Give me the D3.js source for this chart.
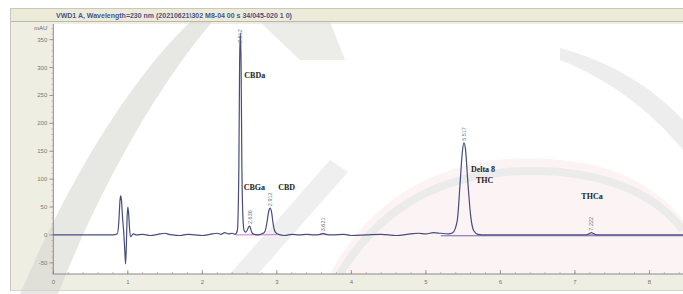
<!DOCTYPE html>
<html>
<head>
<meta charset="utf-8">
<script src="https://cdn.jsdelivr.net/npm/d3@7"></script>
<style>
  body { margin: 0; background: #fff; }
  svg { display: block; font-family: "Liberation Sans", Arial, sans-serif; }
</style>
</head>
<body>
<svg id="chart"></svg>
<script>
// chromatogram trace (time in min, signal in mAU)
var traceTime = [0, 0.5, 0.8, 0.86, 0.88, 0.895, 0.905, 0.915, 0.93, 0.945, 0.96, 0.97, 0.98, 0.99, 1.0, 1.01, 1.025, 1.04, 1.07, 1.12,
  1.2, 1.3, 1.4, 1.5, 1.55, 1.6, 1.7, 1.8, 1.9, 2.0, 2.1, 2.2, 2.25, 2.3, 2.35, 2.4, 2.44, 2.47, 2.49, 2.5, 2.51, 2.52, 2.53, 2.545,
  2.56, 2.58, 2.6, 2.62, 2.635, 2.65, 2.67, 2.7, 2.75, 2.8, 2.84, 2.87, 2.89, 2.91, 2.93, 2.95, 2.98, 3.02, 3.1, 3.2, 3.3, 3.4, 3.5,
  3.58, 3.62, 3.66, 3.75, 3.9, 4.0, 4.2, 4.4, 4.6, 4.8, 4.9, 5.0, 5.1, 5.2, 5.3, 5.36, 5.42, 5.46, 5.49, 5.51, 5.53, 5.56, 5.6, 5.64,
  5.7, 5.8, 6.0, 6.5, 7.0, 7.15, 7.2, 7.22, 7.24, 7.3, 7.5, 8.0, 8.45];
var traceValue = [0, 0, 0, 2, 25, 62, 70, 62, 30, 5, -30, -52, -20, 30, 50, 40, 8, -3, 2, 0,
  1, -1, 1, 3, 1, 0, -1, 1, 0, -1, 1, 3, 1, 4, 2, 3, 1, 8, 120, 305, 362, 305, 130, 30,
  8, 5, 8, 14, 16, 10, 3, 1, 0, 2, 6, 25, 42, 48, 40, 20, 5, 1, -1, 1, 0, 1, 0,
  1, 3, 1, 0, 1, -1, 0, 1, -1, 2, 3, 2, 4, 3, 2, 4, 25, 95, 150, 165, 155, 100, 35, 8,
  1, 0, 0, 0, 0, 0, 3, 4, 3, 0, 0, 0, 0];

// integrated peaks
var peakNames = ["CBDa", "CBGa", "CBD", "", "Delta 8|THC", "THCa"];
var peakTimes = [2.51, 2.635, 2.91, 3.62, 5.51, 7.22];
var peakHeights = [362, 16, 48, 3, 165, 4];
var peakLabels = ["2.512", "2.636", "2.912", "3.621", "5.517", "7.222"];

// axis ticks
var yTicks = [-50, 0, 50, 100, 150, 200, 250, 300, 350];
var xTicks = [0, 1, 2, 3, 4, 5, 6, 7, 8];

var titleText = "VWD1 A, Wavelength=230 nm (20210621\\302 M8-04 00 s 34/045-020 1 0)";

var svgWidth = 683, svgHeight = 294;
var svg = d3.select("#chart").attr("width", svgWidth).attr("height", svgHeight);

var plotLeft = 53.3, plotRight = 683, plotTop = 24, plotBottom = 274;

var x = d3.scaleLinear().domain([0, 8.45]).range([plotLeft, plotRight]);
var y = d3.scaleLinear().domain([-70, 378]).range([plotBottom, plotTop]);

// frame: header bar, left panel, bottom band
svg.append("rect").attr("x", 10).attr("y", 8).attr("width", 673).attr("height", 283).attr("fill", "#efeee3");
svg.append("rect").attr("x", 10).attr("y", 8).attr("width", 673).attr("height", 14).attr("fill", "#ecebd9");
svg.append("line").attr("x1", 10).attr("x2", 683).attr("y1", 8.5).attr("y2", 8.5).attr("stroke", "#c9c8bb");
svg.append("line").attr("x1", 10).attr("x2", 683).attr("y1", 21.5).attr("y2", 21.5).attr("stroke", "#b9b8ab");
svg.append("line").attr("x1", 10.5).attr("x2", 10.5).attr("y1", 8).attr("y2", 291).attr("stroke", "#c9c8bb");
svg.append("line").attr("x1", 10).attr("x2", 683).attr("y1", 290.5).attr("y2", 290.5).attr("stroke", "#d6d5c8");
svg.append("rect").attr("x", plotLeft).attr("y", plotTop).attr("width", plotRight - plotLeft)
  .attr("height", plotBottom - plotTop).attr("fill", "#fff");

// faint watermark shapes
var wm = svg.append("g").attr("opacity", 0.6);
wm.append("path").attr("d", "M20,294 C60,200 120,90 190,22 L212,22 C150,95 95,200 58,294 Z").attr("fill", "#d8d8d2");
wm.append("path").attr("d", "M260,22 L330,22 L345,60 L300,60 Z").attr("fill", "#e0e0dc");
wm.append("path").attr("d", "M560,60 C610,80 650,110 683,150 L683,120 C650,85 610,62 560,48 Z").attr("fill", "#e2e2e2");
wm.append("path").attr("d", "M330,274 C380,180 470,150 560,160 C620,165 660,190 683,220 L683,274 Z").attr("fill", "#fbeeee");
wm.append("path").attr("d", "M340,274 C390,190 470,165 560,172 C620,178 660,200 683,230").attr("fill", "none")
  .attr("stroke", "#dedede").attr("stroke-width", 8);
wm.append("path").attr("d", "M230,274 L330,160 L348,172 L258,274 Z").attr("fill", "#e6e6e6");

// title
svg.append("text").attr("x", 56).attr("y", 17.5).attr("font-size", 7).attr("font-weight", "bold")
  .attr("fill", "#4a5488").text(titleText);

// y axis
var yAxis = svg.append("g").attr("transform", "translate(" + plotLeft + ",0)");
yAxis.append("line").attr("y1", plotTop).attr("y2", plotBottom).attr("stroke", "#8a8a8a");
yAxis.selectAll(".minor").data(d3.range(-70, 378, 10)).enter().append("line")
  .attr("x1", -2).attr("x2", 0).attr("y1", function(d) { return y(d); }).attr("y2", function(d) { return y(d); })
  .attr("stroke", "#aaa").attr("stroke-width", 0.6);
yAxis.selectAll(".major").data(yTicks).enter().append("line")
  .attr("x1", -4).attr("x2", 0).attr("y1", function(d) { return y(d); }).attr("y2", function(d) { return y(d); })
  .attr("stroke", "#888").attr("stroke-width", 0.8);
yAxis.selectAll("text.tl").data(yTicks).enter().append("text").attr("class", "tl")
  .attr("x", -6).attr("y", function(d) { return y(d) + 2; })
  .attr("text-anchor", "end").attr("font-size", 6).attr("fill", "#777").text(function(d) { return d; });
svg.append("text").attr("x", 34).attr("y", 30).attr("font-size", 6).attr("fill", "#666").text("mAU");

// x axis
var xAxis = svg.append("g");
xAxis.append("line").attr("x1", plotLeft).attr("x2", plotRight).attr("y1", plotBottom).attr("y2", plotBottom)
  .attr("stroke", "#8a8a8a");
xAxis.selectAll(".minor").data(d3.range(0, 8.45, 0.2)).enter().append("line")
  .attr("x1", function(d) { return x(d); }).attr("x2", function(d) { return x(d); })
  .attr("y1", plotBottom).attr("y2", plotBottom - 2).attr("stroke", "#999").attr("stroke-width", 0.6);
xAxis.selectAll(".major").data(xTicks).enter().append("line")
  .attr("x1", function(d) { return x(d); }).attr("x2", function(d) { return x(d); })
  .attr("y1", plotBottom).attr("y2", plotBottom - 4).attr("stroke", "#888").attr("stroke-width", 0.8);
xAxis.selectAll("text").data(xTicks).enter().append("text")
  .attr("x", function(d) { return x(d); }).attr("y", 284)
  .attr("text-anchor", "middle").attr("font-size", 6).attr("fill", "#777").text(function(d) { return d; });

var plot = svg.append("g");

// integration baselines
var baseLine = d3.line().x(function(d) { return x(d[0]); }).y(function(d) { return y(d[1]); });
plot.append("path").datum([[2.45, 0], [3.0, 0.5]]).attr("d", baseLine)
  .attr("fill", "none").attr("stroke", "#d07ad0").attr("stroke-width", 1);
plot.append("path").datum([[3.56, 0.5], [3.68, 0.5]]).attr("d", baseLine)
  .attr("fill", "none").attr("stroke", "#d07ad0").attr("stroke-width", 1);
plot.append("path").datum([[7.15, 0.5], [7.3, 0.5]]).attr("d", baseLine)
  .attr("fill", "none").attr("stroke", "#d07ad0").attr("stroke-width", 1);
plot.append("path").datum([[5.2, -1.5], [8.45, -1.5]]).attr("d", baseLine)
  .attr("fill", "none").attr("stroke", "#6a6aa6").attr("stroke-width", 1);

// trace
var trace = traceTime.map(function(t, i) { return [t, traceValue[i]]; });
var traceLine = d3.line().curve(d3.curveMonotoneX)
  .x(function(d) { return x(d[0]); }).y(function(d) { return y(d[1]); });
plot.append("path").datum(trace).attr("d", traceLine)
  .attr("fill", "none").attr("stroke", "#474c7c").attr("stroke-width", 1.2).attr("stroke-linejoin", "round");

// retention time labels (the tallest one sits over its own peak, as in the original)
peakTimes.forEach(function(t, i) {
  var over = peakHeights[i] > 300;
  var px = x(t) + 2, py = over ? y(peakHeights[i]) + 10 : y(peakHeights[i]) - 2;
  plot.append("text").attr("transform", "translate(" + px + "," + py + ") rotate(-90)")
    .attr("font-size", 5.5).attr("fill", "#777").text(peakLabels[i]);
});

// compound names
var nameOffsets = [[4, 45], [-6, -36], [8, -18], [0, 0], [7, 29], [-10, -34]];
peakNames.forEach(function(name, i) {
  if (!name) return;
  var px = x(peakTimes[i]) + nameOffsets[i][0], py = y(peakHeights[i]) + nameOffsets[i][1];
  var lines = name.split("|");
  lines.forEach(function(s, j) {
    plot.append("text").attr("x", px + j * 5).attr("y", py + j * 11)
      .attr("font-family", "'Liberation Serif', 'Times New Roman', serif")
      .attr("font-size", 8).attr("font-weight", "bold").attr("fill", "#222").text(s);
  });
});
</script>
</body>
</html>
